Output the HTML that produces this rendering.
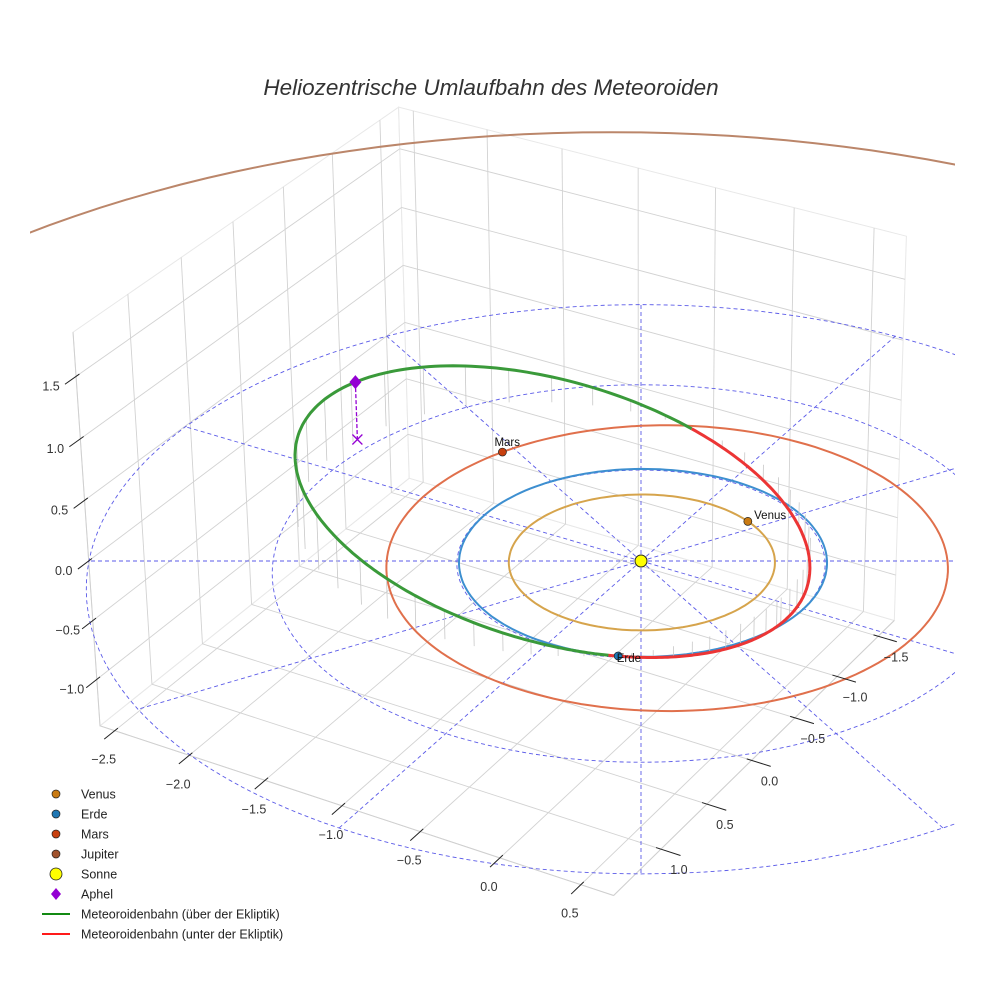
<!DOCTYPE html>
<html><head><meta charset="utf-8"><style>
html,body{margin:0;padding:0;background:#fff;width:984px;height:984px;overflow:hidden}
svg{display:block;font-family:"Liberation Sans",sans-serif}
</style></head><body>
<svg id="chart" width="984" height="984" viewBox="0 0 984 984" xmlns="http://www.w3.org/2000/svg" overflow="hidden">
<defs><clipPath id="axclip"><rect x="30" y="0" width="925" height="984"/></clipPath></defs>
<text x="491" y="95" text-anchor="middle" font-size="22.5" font-style="italic" fill="#333">Heliozentrische Umlaufbahn des Meteoroiden</text>
<g id="panes"></g>
<g id="plot" clip-path="url(#axclip)"></g>
<g id="ticks"></g>
<g id="legend"></g>
</svg>
<script>
// ---- data ----
const xTicks = [-2.5, -2.0, -1.5, -1.0, -0.5, 0.0, 0.5];
const yTicks = [-1.5, -1.0, -0.5, 0.0, 0.5, 1.0];
const zTicks = [-1.0, -0.5, 0.0, 0.5, 1.0, 1.5];
const xRange = [-2.6, 0.7];
const yRange = [-1.7, 1.5];
const zRange = [-1.4, 1.85];
const planetNames = ['Venus', 'Erde', 'Mars', 'Jupiter'];
const orbitRadii = [0.723, 1.0, 1.524, 5.203];
const orbitEcc = [0.007, 0.017, 0.093, 0.048];
const orbitPeriAngles = [130, 100, 150, 15];
const planetAngles = [-66, 67, 207, 125];
const planetColors = ['#c97a12', '#1f77b4', '#c8400f', '#a0522d'];
const orbitColors = ['#d6a44c', '#3d8fd0', '#e0704c', '#bb866a'];
const refCircleRadii = [1, 2, 3];
const refRayAngles = [0, 30, 60, 90, 120, 150, 180, 210, 240, 270, 300, 330];
const meteorSemiMajor = [1.47];
const meteorEccentricity = [0.43];
const meteorPeriAngle = [10];
const meteorNodeAngle = [70];
const meteorInclination = [15];
const legendLabels = ['Venus', 'Erde', 'Mars', 'Jupiter', 'Sonne', 'Aphel', 'Meteoroidenbahn (über der Ekliptik)', 'Meteoroidenbahn (unter der Ekliptik)'];

// ---- projection ----
const CX = 641, CY = 561, SC = 184, AZ = 0.76, DIST = 26;
const AZI = 30 * Math.PI / 180, EL = 30.7 * Math.PI / 180;
const C = Math.cos(AZI), Sn = Math.sin(AZI), CE = Math.cos(EL), SE = Math.sin(EL);
function P(x, y, z) {
  const u = x * C - y * Sn, v = x * Sn + y * C, zw = z * AZ;
  const w = zw * CE - v * SE, d = v * CE + zw * SE, f = DIST / (DIST - d);
  return [CX + SC * u * f, CY - SC * w * f];
}
const NS = 'http://www.w3.org/2000/svg';
function mk(parent, tag, attrs) {
  const e = document.createElementNS(NS, tag);
  for (const k in attrs) e.setAttribute(k, attrs[k]);
  parent.appendChild(e);
  return e;
}
function pts(arr) { return arr.map(p => p[0].toFixed(1) + ',' + p[1].toFixed(1)).join(' '); }
function line3(parent, a, b, attrs) {
  const p = P(...a), q = P(...b);
  return mk(parent, 'line', Object.assign({x1: p[0], y1: p[1], x2: q[0], y2: q[1]}, attrs));
}
const panes = document.getElementById('panes');
const plot = document.getElementById('plot');
const ticks = document.getElementById('ticks');
const legend = document.getElementById('legend');
const [x0, x1] = xRange, [y0, y1] = yRange, [z0, z1] = zRange;
const GRID = {stroke: '#d2d2d2', 'stroke-width': 0.9};
let el;
el = mk(panes, 'polygon', {points: pts([P(x0,y0,z0),P(x1,y0,z0),P(x1,y1,z0),P(x0,y1,z0)]), fill: '#fff', stroke: '#e4e4e4'});


el = mk(panes, 'polygon', {points: pts([P(x0,y0,z0),P(x0,y1,z0),P(x0,y1,z1),P(x0,y0,z1)]), fill: '#fff', stroke: '#e8e8e8'});


el = mk(panes, 'polygon', {points: pts([P(x0,y0,z0),P(x1,y0,z0),P(x1,y0,z1),P(x0,y0,z1)]), fill: '#fff', stroke: '#e8e8e8'});



xTicks.forEach(x => {
  el = line3(panes, [x,y0,z0], [x,y1,z0], GRID);
  
  
  el = line3(panes, [x,y0,z0], [x,y0,z1], GRID);
  
  
});
yTicks.forEach(y => {
  el = line3(panes, [x0,y,z0], [x1,y,z0], GRID);
  
  
  el = line3(panes, [x0,y,z0], [x0,y,z1], GRID);
  
  
});
zTicks.forEach(z => {
  el = line3(panes, [x0,y0,z], [x0,y1,z], GRID);
  
  
  el = line3(panes, [x0,y0,z], [x1,y0,z], GRID);
  
  
});
el = line3(panes, [x0,y1,z0], [x1,y1,z0], {stroke: '#cfcfcf', 'stroke-width': 1});


el = line3(panes, [x1,y0,z0], [x1,y1,z0], {stroke: '#cfcfcf', 'stroke-width': 1});


el = line3(panes, [x0,y1,z0], [x0,y1,z1], {stroke: '#cfcfcf', 'stroke-width': 1});



function orbitR(a, e, peri, th) { return a * (1 - e * e) / (1 + e * Math.cos(th - peri)); }
function orbitPts(a, e, periDeg) {
  const arr = [], peri = periDeg * Math.PI / 180;
  for (let t = 0; t <= 360; t += 2) { const th = t * Math.PI / 180; const r = orbitR(a, e, peri, th); arr.push(P(r * Math.cos(th), r * Math.sin(th), 0)); }
  return arr;
}
el = mk(plot, 'polyline', {points: pts(orbitPts(orbitRadii[3], orbitEcc[3], orbitPeriAngles[3])), fill: 'none', stroke: orbitColors[3], 'stroke-width': 2});



refCircleRadii.forEach(r => {
  el = mk(plot, 'polyline', {points: pts(orbitPts(r, 0, 0)), fill: 'none', stroke: '#5b5be8', 'stroke-width': 0.9, 'stroke-dasharray': '4,3'});
  
  
});
const rMax = refCircleRadii[refCircleRadii.length - 1];
refRayAngles.forEach(a => {
  const th = a * Math.PI / 180;
  el = line3(plot, [0,0,0], [rMax*Math.cos(th), rMax*Math.sin(th), 0], {stroke: '#5b5be8', 'stroke-width': 0.9, 'stroke-dasharray': '4,3'});
  
  
});

for (let i = 0; i < 3; i++) {
  el = mk(plot, 'polyline', {points: pts(orbitPts(orbitRadii[i], orbitEcc[i], orbitPeriAngles[i])), fill: 'none', stroke: orbitColors[i], 'stroke-width': 2});
  
  
}

// meteoroid orbit
const mA = meteorSemiMajor[0], mE = meteorEccentricity[0];
const mW = meteorPeriAngle[0] * Math.PI / 180, mO = meteorNodeAngle[0] * Math.PI / 180;
const mTanI = Math.tan(meteorInclination[0] * Math.PI / 180);
function meteor(tDeg) {
  const th = tDeg * Math.PI / 180;
  const r = orbitR(mA, mE, mW, th);
  return [r * Math.cos(th), r * Math.sin(th), r * Math.sin(th - mO) * mTanI];
}
for (let t = 0; t < 360; t += 7) {
  const m = meteor(t);
  el = line3(plot, m, [m[0], m[1], 0], {stroke: '#c8c8c8', 'stroke-width': 0.8});
  
  
}
let seg = [], sign = null;
const segs = [];
for (let t = 0; t <= 720; t += 1) {
  const m = meteor(t % 360);
  const s = m[2] >= 0;
  if (sign !== null && s !== sign) { seg.push(P(...m)); segs.push([sign, seg]); seg = []; }
  sign = s; seg.push(P(...m));
  if (t >= 360 && segs.length >= 3) break;
}
segs.push([sign, seg]);
segs.slice(1).forEach(([above, s]) => {
  el = mk(plot, 'polyline', {points: pts(s), fill: 'none', stroke: above ? '#3a9a3a' : '#ec3535', 'stroke-width': 3, 'stroke-linejoin': 'round'});
  
  
});

const aph = meteor(meteorPeriAngle[0] + 180);
const aTop = P(...aph), aBot = P(aph[0], aph[1], 0);
el = mk(plot, 'line', {x1: aTop[0], y1: aTop[1], x2: aBot[0], y2: aBot[1], stroke: '#9400d3', 'stroke-width': 1.3, 'stroke-dasharray': '4,2'});


el = mk(plot, 'path', {d: `M${aBot[0]-5},${aBot[1]-5}L${aBot[0]+5},${aBot[1]+5}M${aBot[0]-5},${aBot[1]+5}L${aBot[0]+5},${aBot[1]-5}`, stroke: '#9400d3', 'stroke-width': 1.3});


el = mk(plot, 'polygon', {points: `${aTop[0]},${aTop[1]-7} ${aTop[0]+6},${aTop[1]} ${aTop[0]},${aTop[1]+7} ${aTop[0]-6},${aTop[1]}`, fill: '#9400d3'});



for (let i = 0; i < 4; i++) {
  const th = planetAngles[i] * Math.PI / 180;
  const r = orbitR(orbitRadii[i], orbitEcc[i], orbitPeriAngles[i] * Math.PI / 180, th);
  const p = P(r * Math.cos(th), r * Math.sin(th), 0);
  el = mk(plot, 'circle', {cx: p[0], cy: p[1], r: 4, fill: planetColors[i], stroke: '#222', 'stroke-width': 0.7});
  
  
  const q = P(r * 1.06 * Math.cos(th), r * 1.06 * Math.sin(th), 0);
  el = mk(plot, 'text', {x: q[0], y: q[1], 'font-size': 11.5, fill: '#111'});
  el.textContent = planetNames[i];
  
  
}
const sp = P(0, 0, 0);
el = mk(plot, 'circle', {cx: sp[0], cy: sp[1], r: 6, fill: '#ffff00', stroke: '#222', 'stroke-width': 1});



const TICK = {stroke: '#222', 'stroke-width': 1};
function label(x, y, txt) {
  const t = mk(ticks, 'text', {x: x, y: y, 'text-anchor': 'middle', 'font-size': 12.5, fill: '#333'});
  t.textContent = txt;
  return t;
}
function fmt(v) { return (v < 0 ? '\u2212' : '') + Math.abs(v).toFixed(1); }
xTicks.forEach(x => {
  el = line3(ticks, [x, y1 - 0.03, z0], [x, y1 + 0.1, z0], TICK);
  
  
  const p = P(x, y1, z0);
  el = label(p[0] - 11, p[1] + 33, fmt(x));
  
  
});
yTicks.forEach(y => {
  el = line3(ticks, [x1 - 0.03, y, z0], [x1 + 0.12, y, z0], TICK);
  
  
  const p = P(x1, y, z0);
  el = label(p[0] + 18, p[1] + 25, fmt(y));
  
  
});
zTicks.forEach(z => {
  el = line3(ticks, [x0, y1 - 0.03, z], [x0, y1 + 0.1, z], TICK);
  
  
  const p = P(x0, y1, z);
  el = label(p[0] - 25, p[1] + 14, fmt(z));
  
  
});

const legendColors = [planetColors[0], planetColors[1], planetColors[2], planetColors[3], '#ffff00', '#9400d3', '#138a13', '#ff1a1a'];
legendLabels.forEach((lab, i) => {
  const y = 794 + i * 20;
  let m;
  if (i < 4) m = mk(legend, 'circle', {cx: 56, cy: y, r: 4, fill: legendColors[i], stroke: '#222', 'stroke-width': 0.7});
  else if (i === 4) m = mk(legend, 'circle', {cx: 56, cy: y, r: 6, fill: legendColors[i], stroke: '#222', 'stroke-width': 0.8});
  else if (i === 5) m = mk(legend, 'polygon', {points: `56,${y-6} 61,${y} 56,${y+6} 51,${y}`, fill: legendColors[i]});
  else m = mk(legend, 'line', {x1: 42, y1: y, x2: 70, y2: y, stroke: legendColors[i], 'stroke-width': 2});
  
  
  const t = mk(legend, 'text', {x: 81, y: y + 4.5, 'font-size': 12.5, fill: '#222'});
  t.textContent = lab;
  
  
});
</script>
</body></html>
